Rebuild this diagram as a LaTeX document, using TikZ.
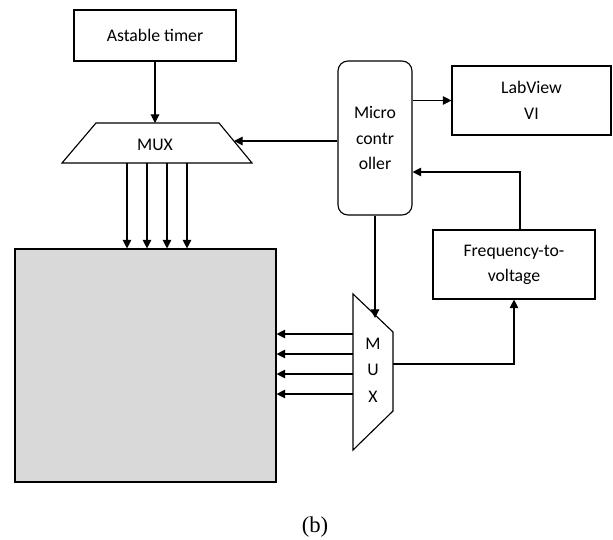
\documentclass[tikz,border=0pt]{standalone}
\usepackage{fontspec}
\setmainfont{Carlito}
\newfontfamily\capfont{Liberation Serif}
\usetikzlibrary{arrows.meta}

\begin{document}
\begin{tikzpicture}[x=0.75pt, y=-0.75pt, line width=0.85pt,
  font=\fontsize{13.3}{19}\selectfont,
  block/.style={draw, rectangle, align=center, inner sep=0pt},
  arr/.style={-{Triangle[length=6.5pt,width=6.5pt]}}]
  \colorlet{corefill}{black!15}
  \useasboundingbox (0,0) rectangle (613,539);

  %--- Blocks ---
  \node[block, minimum width=121.5pt, minimum height=38.25pt] (timer) at (155,35.5) {Astable timer};
  \node[block, rounded corners=7.5pt, minimum width=55.5pt, minimum height=115.5pt] (micro) at (375,138) {Micro\\contr\\oller};
  \node[block, minimum width=119.25pt, minimum height=51.75pt] (lab) at (531.5,100.5) {LabView\\VI};
  \node[block, minimum width=121.5pt, minimum height=51.75pt] (freq) at (514,264.5) {Frequency-to-\\voltage};
  \node[block, fill=corefill, minimum width=195.75pt, minimum height=174.75pt] (core) at (145.5,365.5) {};

  %--- Top MUX (trapezoid) ---
  \draw (96,123) -- (219,123) -- (252,163) -- (62,163) -- cycle;
  \node (muxA) at (155,145) {MUX};
  \coordinate (muxA-in)  at (155,123);
  \coordinate (muxA-sel) at (234,141);

  %--- Side MUX ---
  \draw (353,294) -- (393,332) -- (393,411) -- (353,450) -- cycle;
  \node[align=center, font=\fontsize{13.3}{20}\selectfont] (muxB) at (373,370) {M\\U\\X};
  \coordinate (muxB-sel) at (375,318);
  \coordinate (muxB-out) at (393,364);

  %--- Connectors ---
  \draw[arr] (timer.south) -- (muxA-in);
  \draw[arr] (muxA-sel -| micro.west) -- (muxA-sel);
  \draw[arr] (lab.west -| micro.east) -- (lab.west);
  \coordinate (fb) at (520,172);
  \draw[arr] (fb |- freq.north) -- (fb) -- (fb -| micro.east);
  \draw[arr] (micro.south) -- (micro.south |- muxB-sel);
  \draw[arr] (muxB-out) -| (freq.south);

  \foreach \x in {127,147,167,187} {
    \coordinate (out\x) at (\x,163);
    \draw[arr] (out\x) -- (out\x |- core.north);
  }
  \foreach \y in {334,354,374,394} {
    \coordinate (in\y) at (353,\y);
    \draw[arr] (in\y) -- (in\y -| core.east);
  }

  %--- Caption ---
  \node[font=\capfont\fontsize{17}{20}\selectfont] (cap) at (315,527) {(b)};
\end{tikzpicture}
\end{document}
